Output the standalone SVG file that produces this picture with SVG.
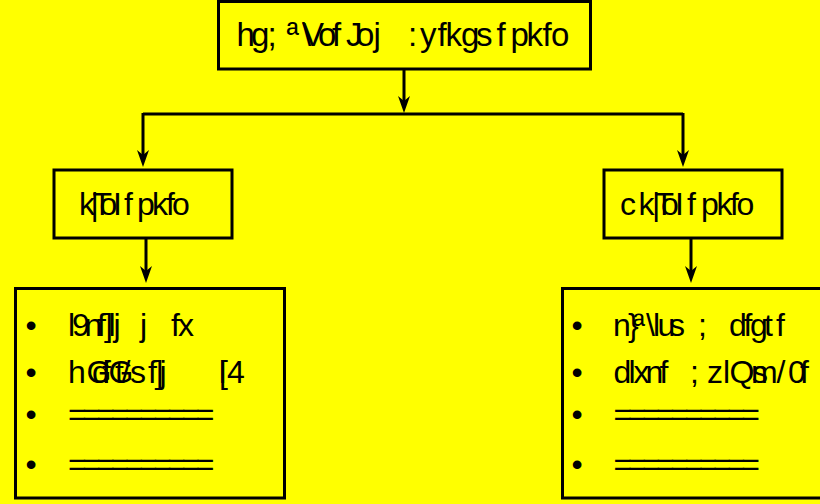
<svg xmlns="http://www.w3.org/2000/svg" width="820" height="504" viewBox="0 0 820 504">
<defs>
<style>
.box{fill:#ffff00;stroke:#000;stroke-width:3}
.t{font-family:"Liberation Sans",Arial,sans-serif;fill:#000}
.c{fill:none;stroke:#000;stroke-width:3}
.eq{letter-spacing:-4.5px}
</style>
<marker id="ah" markerUnits="userSpaceOnUse" viewBox="0 0 17 12" refX="9" refY="6" markerWidth="17" markerHeight="12" orient="auto">
<path d="M0,0 L17,6 L0,12 L5,6 Z" fill="#000"/>
</marker>
</defs>
<rect width="820" height="504" fill="#ffff00"/>
<g id="connectors">
<path class="c" d="M404,70 V105" marker-end="url(#ah)"/>
<path class="c" d="M143,114 H683"/>
<path class="c" d="M143,113 V159" marker-end="url(#ah)"/>
<path class="c" d="M683,113 V159" marker-end="url(#ah)"/>
<path class="c" d="M146,239 V275" marker-end="url(#ah)"/>
<path class="c" d="M691,239 V275" marker-end="url(#ah)"/>
</g>
<g id="title">
<rect class="box" x="218.5" y="1.5" width="372" height="67.5"/>
<text class="t" font-size="33" y="46" x="236.5 251 267.5 286.5 302 302 318 332 339 346 356 373.5 408 420 437.5 445.5 461 476 496.5 503 510.5 526.5 542.5 551">hg;ª\Vof Joj:yfkgsf pkfo</text>
</g>
<g id="direct">
<rect class="box" x="54" y="170" width="178" height="68"/>
<text class="t" font-size="32" y="215" x="79 90.5 92.5 99.5 113 124 131 137 152 166 172">k|ToIf pkfo</text>
</g>
<g id="indirect">
<rect class="box" x="604" y="170" width="178" height="68"/>
<text class="t" font-size="32" y="215" x="620 638.5 652 654.5 661 675 687 695 701 716.5 730 736.5">ck|ToIf pkfo</text>
</g>
<g id="direct-list">
<rect class="box" x="15.5" y="288.5" width="269" height="209.5"/>
<text class="t" font-size="32" x="25.4" y="336">•</text>
<text class="t" font-size="32" x="25.4" y="383">•</text>
<text class="t" font-size="32" x="25.4" y="425">•</text>
<text class="t" font-size="32" x="25.4" y="475">•</text>
<text class="t" font-size="32" y="336" x="68 72 84.5 97 104 109 108.5 113.5 140 171 178">l9nf] ljjfx</text>
<text class="t" font-size="32" y="383" x="68 86.5 92 102 108.5 115 121.5 130 148 154.5 160 159.5 219 219 227">hGdfGt/sf] j[l4</text>
<text class="t eq" font-size="32" x="68" y="425">==========</text>
<text class="t eq" font-size="32" x="68" y="475">==========</text>
</g>
<g id="indirect-list">
<rect class="box" x="562.5" y="288.5" width="300" height="209.5"/>
<text class="t" font-size="32" x="571.4" y="336">•</text>
<text class="t" font-size="32" x="571.4" y="383">•</text>
<text class="t" font-size="32" x="571.4" y="425">•</text>
<text class="t" font-size="32" x="571.4" y="475">•</text>
<text class="t" font-size="32" y="336" x="613 628 633 646 653 657.5 669 685 698 729 743.5 750 764 776">n}ª\lus ;dfgtf</text>
<text class="t" font-size="32" y="383" x="613.5 628.5 633.5 645.5 659.5 668 690 707 723 729.5 751 752 776.5 788 800">dlxnf ;zlQms/0f</text>
<text class="t eq" font-size="32" x="613.5" y="425">==========</text>
<text class="t eq" font-size="32" x="613.5" y="475">==========</text>
</g>
</svg>
